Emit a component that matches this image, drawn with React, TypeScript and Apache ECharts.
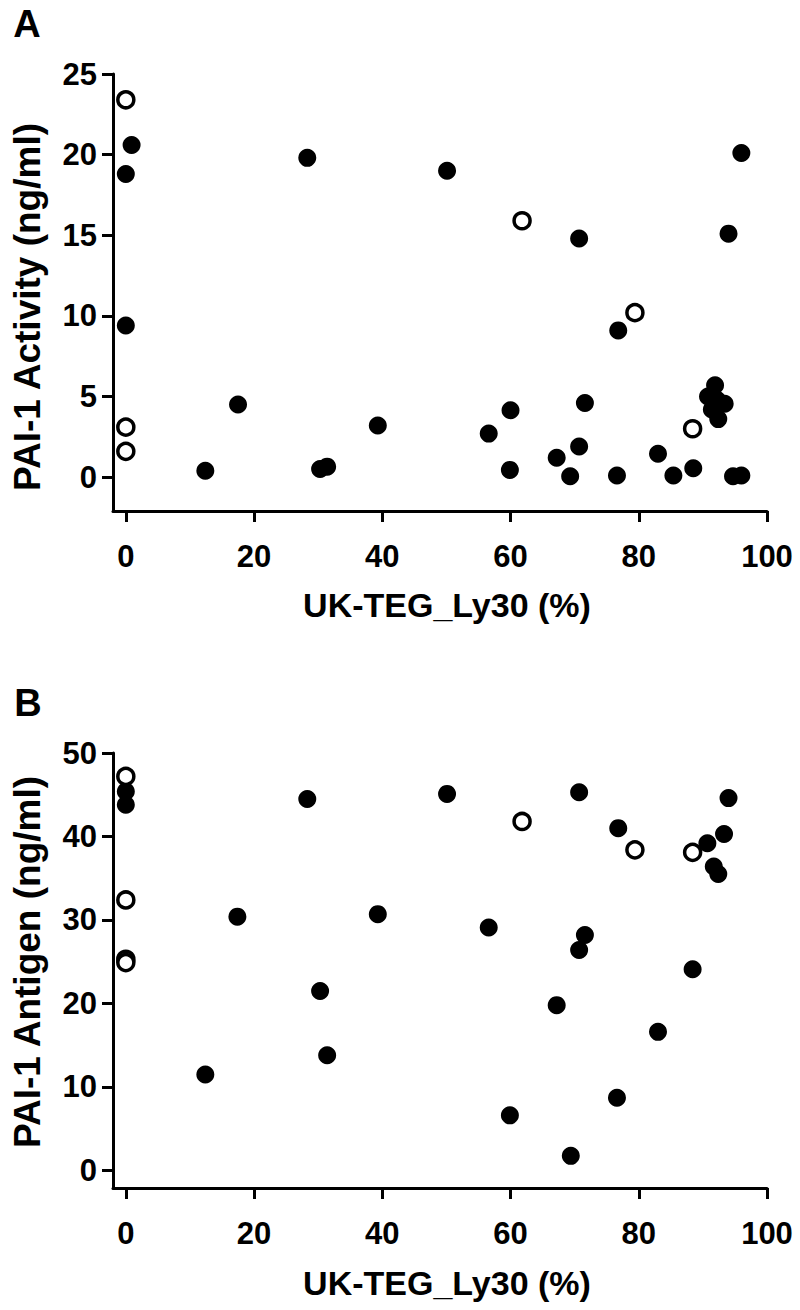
import React, { useEffect, useRef } from "react";
import * as echarts from "echarts";

// Panel A: PAI-1 Activity (ng/ml) vs UK-TEG_Ly30 (%)
const activityFilled: [number, number][] = [
  [0.9, 20.6], [0, 18.8], [0, 9.4], [12.4, 0.4], [17.5, 4.5], [28.3, 19.8],
  [30.3, 0.5], [31.4, 0.65], [39.3, 3.2], [50.1, 19.0], [56.6, 2.7], [59.9, 0.45],
  [60.0, 4.15], [67.2, 1.2], [69.3, 0.05], [70.7, 14.8], [70.7, 1.9], [71.6, 4.6],
  [76.6, 0.1], [76.8, 9.1], [83.0, 1.45], [85.4, 0.1], [88.5, 0.55], [90.8, 5.0],
  [91.4, 4.2], [91.9, 5.7], [92.2, 4.8], [92.4, 3.6], [93.4, 4.55], [94.0, 15.1],
  [94.7, 0.05], [96.0, 0.1], [96.0, 20.1],
];
const activityOpen: [number, number][] = [
  [0, 23.4], [0, 3.1], [0, 1.6], [61.8, 15.9], [79.4, 10.2], [88.4, 3.0],
];

// Panel B: PAI-1 Antigen (ng/ml) vs UK-TEG_Ly30 (%)
const antigenFilled: [number, number][] = [
  [0, 45.4], [0, 43.8], [12.4, 11.5], [17.4, 30.4], [28.3, 44.5], [30.3, 21.5],
  [31.4, 13.8], [39.3, 30.7], [50.1, 45.1], [56.6, 29.1], [59.9, 6.6], [67.2, 19.8],
  [69.4, 1.75], [70.7, 45.3], [70.7, 26.4], [71.6, 28.2], [76.6, 8.7], [76.8, 41.0],
  [83.0, 16.6], [88.4, 24.1], [90.7, 39.2], [91.7, 36.4], [92.4, 35.5], [93.3, 40.3],
  [94.0, 44.6],
];
const antigenOpen: [number, number][] = [
  [0, 47.2], [0, 32.4], [0, 25.3], [0, 24.9], [61.8, 41.8], [79.4, 38.4], [88.4, 38.1],
];

const xTicks = [0, 20, 40, 60, 80, 100];
const yTicksA = [0, 5, 10, 15, 20, 25];
const yTicksB = [0, 10, 20, 30, 40, 50];

const xTitle = "UK-TEG_Ly30 (%)";
const yTitleA = "PAI-1 Activity (ng/ml)";
const yTitleB = "PAI-1 Antigen (ng/ml)";

const FONT = "'Liberation Sans', Arial, Helvetica, sans-serif";

function xAxisCfg(gridIndex: number) {
  return {
    type: "value",
    gridIndex,
    min: -2,
    max: 100,
    splitLine: { show: false },
    axisLine: { show: true, onZero: false, lineStyle: { color: "#000", width: 3 } },
    axisTick: { show: true, length: 11, customValues: xTicks, lineStyle: { color: "#000", width: 3 } },
    axisLabel: {
      customValues: xTicks,
      color: "#000",
      fontSize: 31,
      fontWeight: "bold",
      fontFamily: FONT,
      margin: 30,
    },
  };
}

function yAxisCfg(gridIndex: number, min: number, max: number, ticks: number[]) {
  return {
    type: "value",
    gridIndex,
    min,
    max,
    splitLine: { show: false },
    axisLine: { show: true, onZero: false, lineStyle: { color: "#000", width: 3 } },
    axisTick: { show: true, length: 11, customValues: ticks, lineStyle: { color: "#000", width: 3 } },
    axisLabel: {
      customValues: ticks,
      color: "#000",
      fontSize: 31,
      fontWeight: "bold",
      fontFamily: FONT,
      margin: 16,
    },
  };
}

function filledSeries(idx: number, data: [number, number][]) {
  return {
    type: "scatter",
    xAxisIndex: idx,
    yAxisIndex: idx,
    data,
    symbol: "circle",
    symbolSize: 18,
    itemStyle: { color: "#000", opacity: 1 },
    z: 3,
  };
}

function openSeries(idx: number, data: [number, number][]) {
  return {
    type: "scatter",
    xAxisIndex: idx,
    yAxisIndex: idx,
    data,
    symbol: "circle",
    symbolSize: 16,
    itemStyle: { color: "#fff", borderColor: "#000", borderWidth: 3.5, opacity: 1 },
    z: 4,
  };
}

export default function App() {
  const ref = useRef<HTMLDivElement>(null);
  useEffect(() => {
    if (!ref.current) return;
    const chart = echarts.init(ref.current, null, { renderer: "svg" });
    const titleStyle = { fill: "#000", fontSize: 34, fontWeight: "bold", fontFamily: FONT };
    chart.setOption({
      animation: false,
      backgroundColor: "#fff",
      grid: [
        { left: 113, top: 74, width: 654, height: 437 },
        { left: 113, top: 753, width: 654, height: 435 },
      ],
      xAxis: [xAxisCfg(0), xAxisCfg(1)],
      yAxis: [yAxisCfg(0, -2.1, 25, yTicksA), yAxisCfg(1, -2.1, 50, yTicksB)],
      series: [
        filledSeries(0, activityFilled),
        openSeries(0, activityOpen),
        filledSeries(1, antigenFilled),
        openSeries(1, antigenOpen),
      ],
      graphic: [
        { type: "text", x: 27, y: 24, style: { ...titleStyle, text: "A", fontSize: 38, textAlign: "center", textVerticalAlign: "middle" } },
        { type: "text", x: 28, y: 703, style: { ...titleStyle, text: "B", fontSize: 38, textAlign: "center", textVerticalAlign: "middle" } },
        { type: "text", x: 447, y: 605, style: { ...titleStyle, text: xTitle, textAlign: "center", textVerticalAlign: "middle" } },
        { type: "text", x: 447, y: 1283, style: { ...titleStyle, text: xTitle, textAlign: "center", textVerticalAlign: "middle" } },
        { type: "text", x: 27, y: 307, rotation: Math.PI / 2, style: { ...titleStyle, text: yTitleA, fontSize: 37, textAlign: "center", textVerticalAlign: "middle" } },
        { type: "text", x: 27, y: 962, rotation: Math.PI / 2, style: { ...titleStyle, text: yTitleB, fontSize: 37, textAlign: "center", textVerticalAlign: "middle" } },
      ],
    });
    return () => chart.dispose();
  }, []);
  return (
    <div
      ref={ref}
      style={{ position: "absolute", left: 0, top: 0, width: 800, height: 1310, background: "#fff" }}
    />
  );
}
